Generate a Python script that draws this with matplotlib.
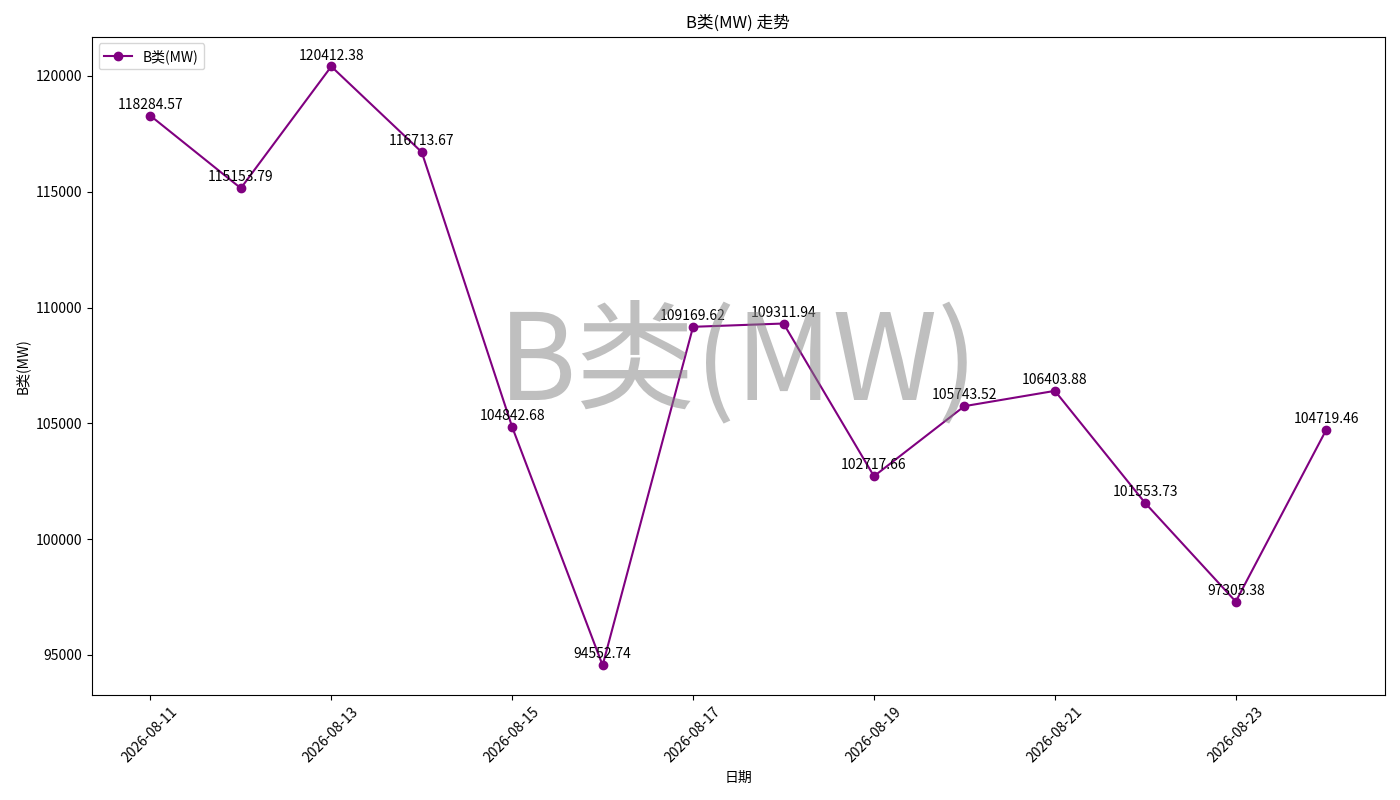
import matplotlib
matplotlib.use("Agg")
import matplotlib.pyplot as plt
import matplotlib.dates as mdates
import pandas as pd

plt.rcParams['font.family'] = ['Noto Sans CJK SC', 'DejaVu Sans']
plt.rcParams['axes.unicode_minus'] = False

dates = pd.date_range("2026-08-11", "2026-08-24", freq="D")
values = [118284.57, 115153.79, 120412.38, 116713.67, 104842.68, 94552.74,
          109169.62, 109311.94, 102717.66, 105743.52, 106403.88, 101553.73,
          97305.38, 104719.46]
label = "B类(MW)"

fig, ax = plt.subplots(figsize=(14, 8), dpi=100)
ax.plot(dates, values, marker='o', color='purple', label=label)
for d, v in zip(dates, values):
    ax.annotate(f"{v:.2f}", (d, v), textcoords="offset points", xytext=(0, 5),
                ha='center', fontsize=10)

ax.text(0.5, 0.5, label, transform=ax.transAxes, fontsize=86, color='gray',
        alpha=0.5, ha='center', va='center')

ax.set_title(f"{label} 走势")
ax.set_xlabel("日期")
ax.set_ylabel(label)
ax.set_xticks(dates[::2])
ax.xaxis.set_major_formatter(mdates.DateFormatter("%Y-%m-%d"))
plt.setp(ax.get_xticklabels(), rotation=45)
ax.legend(loc='upper left')
fig.tight_layout()
fig.savefig("out.png", dpi=100)
